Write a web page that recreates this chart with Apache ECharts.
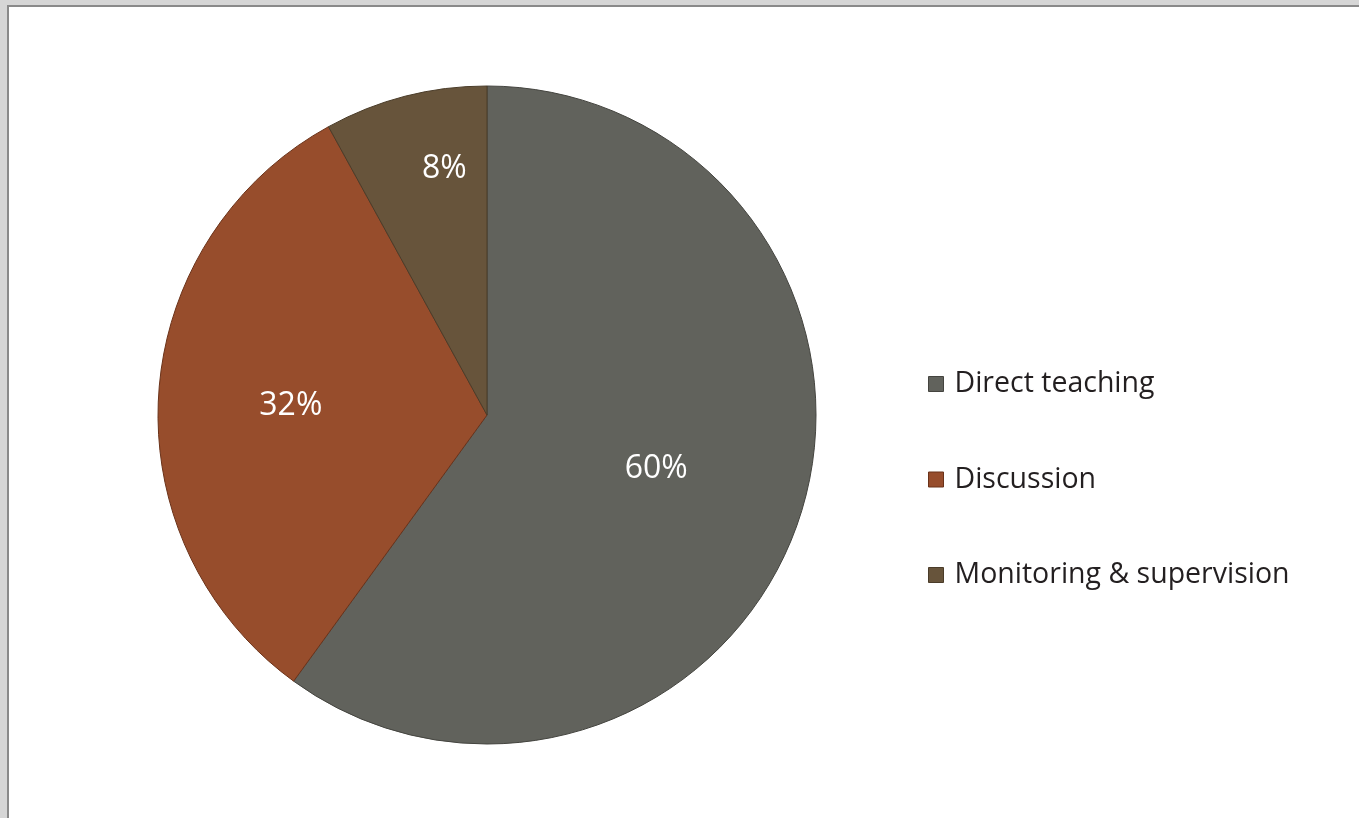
<!DOCTYPE html>
<html>
<head>
<meta charset="utf-8">
<script src="https://cdn.jsdelivr.net/npm/echarts@6/dist/echarts.min.js"></script>
<style>
    html, body {margin: 0; padding: 0; width: 1359px; height: 818px; overflow: hidden;}
    body {background: #d6d6d6;}
    #paper {position: absolute; left: 7px; top: 5px; right: 0; bottom: 0; background: #fff;
        border-left: 2px solid #8a8a8a; border-top: 2px solid #8a8a8a;}
    #chartDom {position: absolute; left: 0; top: 0; width: 1359px; height: 818px;}
</style>
</head>
<body>
<div id="paper"></div>
<div id="chartDom"></div>
<script>
    // activity shares, in percent
    var categories = ['Direct teaching', 'Discussion', 'Monitoring & supervision'];
    var shares = [60, 32, 8];

    var colors = ['#61625c', '#974d2c', '#67543b'];
    var borders = ['#44443f', '#6a3219', '#4a3c29'];
    // nudge labels to where the original sits them
    var labelOffsets = [[10, 2], [-29, 1], [-1, -84]];

    var chart = echarts.init(document.getElementById('chartDom'));

    var pieData = categories.map(function (name, i) {
        return {
            name: name,
            value: shares[i],
            itemStyle: {color: colors[i], borderColor: borders[i], borderWidth: 1},
            label: {offset: labelOffsets[i]}
        };
    });

    var option = {
        animation: false,
        legend: {
            orient: 'vertical',
            left: 923,
            top: 364,
            itemWidth: 15,
            itemHeight: 15,
            itemGap: 65.5,
            icon: 'rect',
            textStyle: {fontFamily: 'Open Sans', fontSize: 28.5, lineHeight: 30, color: '#231f20', padding: [0, 0, 0, 6]},
            itemStyle: {borderWidth: 1},
            data: categories
        },
        series: [{
            type: 'pie',
            center: [487, 415],
            radius: 329,
            startAngle: 90,
            clockwise: true,
            label: {
                show: true,
                position: 'inside',
                formatter: '{c}%',
                color: '#ffffff',
                fontFamily: 'Open Sans',
                fontSize: 32
            },
            labelLine: {show: false},
            emphasis: {disabled: true},
            data: pieData
        }]
    };
    chart.setOption(option);
</script>
</body>
</html>
